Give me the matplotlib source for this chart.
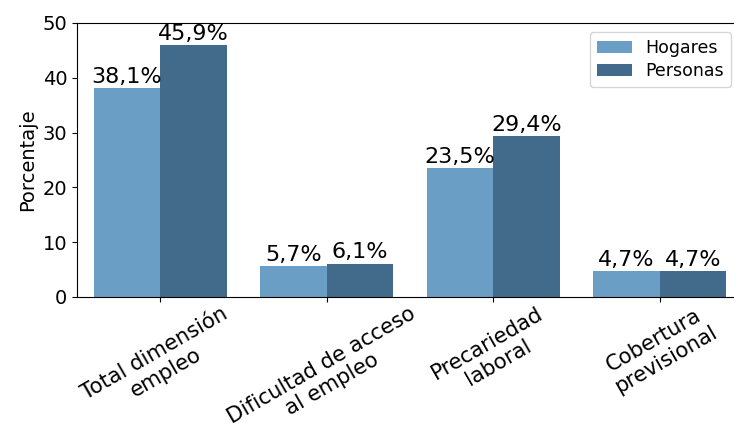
import matplotlib.pyplot as plt
import numpy as np

categories = ["Total dimensión\nempleo", "Dificultad de acceso\nal empleo", "Precariedad\nlaboral", "Cobertura\nprevisional"]
hogares = [38.1, 5.7, 23.5, 4.7]
personas = [45.9, 6.1, 29.4, 4.7]
series_names = ["Hogares", "Personas"]
colors = ["#6b9ec4", "#426a8a"]

fig = plt.figure(figsize=(7.34, 4.29), dpi=100)
ax = fig.add_axes([77 / 734, 132 / 429, 666 / 734, 274 / 429])

x = np.arange(len(categories))
width = 0.4
for i, (vals, name) in enumerate(zip([hogares, personas], series_names)):
    pos = x + (i - 0.5) * width
    ax.bar(pos, vals, width, color=colors[i], label=name)
    for p, v in zip(pos, vals):
        ax.text(p, v + 0.2, f"{v:.1f}%".replace(".", ","), ha="center", va="bottom", fontsize=16)

ax.set_xlim(-0.5, len(categories) - 0.5)
ax.set_ylim(0, 50)
ax.set_yticks([0, 10, 20, 30, 40, 50])
ax.tick_params(axis="y", labelsize=14)
ax.tick_params(axis="x", labelsize=15.2, pad=1)
ax.set_xticks(x)
ax.set_xticklabels(categories, rotation=30, ha="center", multialignment="center", linespacing=1.15)
ax.set_ylabel("Porcentaje", fontsize=14)
ax.legend(loc="upper right", bbox_to_anchor=(0.982, 0.967), borderaxespad=0,
          fontsize=12.5, handlelength=2.0, labelspacing=0.3)

fig.savefig("out.png", dpi=100)
